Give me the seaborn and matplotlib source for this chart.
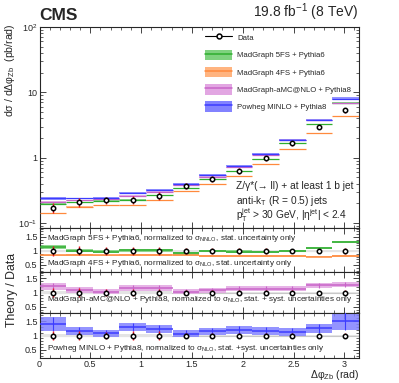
import numpy as np
import matplotlib
matplotlib.use("Agg")
import matplotlib.pyplot as plt
import seaborn as sns
from matplotlib.lines import Line2D
from matplotlib.patches import Patch
from matplotlib.ticker import MultipleLocator, LogLocator, FixedLocator, NullFormatter


# ---------------- data ----------------
bin_edges = np.linspace(0, np.pi, 13)
centers = 0.5 * (bin_edges[1:] + bin_edges[:-1])
width = bin_edges[1] - bin_edges[0]

# measured cross section (pb/rad)
dsigma = [0.171, 0.207, 0.224, 0.224, 0.261, 0.37, 0.47, 0.63, 0.98, 1.65, 3.0, 5.3]
# relative uncertainties of the data
err_tot = [0.17, 0.16, 0.13, 0.14, 0.14, 0.10, 0.10, 0.10, 0.09, 0.08, 0.06, 0.10]
err_stat = [0.10, 0.09, 0.08, 0.08, 0.08, 0.06, 0.06, 0.06, 0.05, 0.05, 0.04, 0.06]

# theory / data ratios
r_5fs = [1.15, 1.01, 0.98, 1.02, 1.03, 0.92, 1.00, 0.98, 0.96, 1.00, 1.10, 1.31]
r_4fs = [0.84, 0.86, 0.84, 0.85, 0.86, 0.84, 0.83, 0.82, 0.82, 0.82, 0.80, 0.82]
r_amc = [1.22, 1.08, 1.03, 1.16, 1.16, 1.03, 1.08, 1.14, 1.14, 1.14, 1.25, 1.28]
r_pow = [1.40, 1.15, 1.07, 1.30, 1.22, 1.06, 1.15, 1.20, 1.16, 1.13, 1.25, 1.50]

# half widths of the theory bands (in ratio units)
e_5fs = [0.07, 0.05, 0.05, 0.05, 0.05, 0.05, 0.04, 0.04, 0.04, 0.04, 0.04, 0.04]
e_4fs = [0.03, 0.03, 0.03, 0.03, 0.03, 0.03, 0.03, 0.03, 0.03, 0.03, 0.03, 0.03]
e_amc = [0.12, 0.10, 0.09, 0.10, 0.10, 0.09, 0.09, 0.09, 0.09, 0.09, 0.10, 0.10]
e_pow = [0.25, 0.13, 0.13, 0.14, 0.15, 0.12, 0.12, 0.14, 0.13, 0.13, 0.15, 0.30]

labels = ["MadGraph 5FS + Pythia6", "MadGraph 4FS + Pythia6",
          "MadGraph-aMC@NLO + Pythia8", "Powheg MINLO + Pythia8"]
line_cols = ["#2fae2f", "#ff8a3d", "#c864c8", "#3c3cff"]
band_cols = ["#7fd27f", "#ffb480", "#e2a6e2", "#8282ff"]

#------------------style------------------
sns.set_style("ticks")
plt.rcParams['font.family'] = ['Liberation Sans', 'DejaVu Sans']
plt.rcParams['mathtext.fontset'] = 'custom'
plt.rcParams['mathtext.rm'] = 'Liberation Sans'
plt.rcParams['mathtext.it'] = 'Liberation Sans:italic'
plt.rcParams['mathtext.bf'] = 'Liberation Sans:bold'
plt.rcParams['axes.linewidth'] = 0.8

fig = plt.figure(figsize=(3.99, 3.83), dpi=100)
L, W = 39.5 / 399, 319.2 / 399
def yfrac(top, bot):
    return [L, 1 - bot / 383, W, (bot - top) / 383]

ax = fig.add_axes(yfrac(27, 228))
ax1 = fig.add_axes(yfrac(228, 272), sharex=ax)
ax2 = fig.add_axes(yfrac(272, 313), sharex=ax)
ax3 = fig.add_axes(yfrac(313, 358), sharex=ax)

dsigma = np.array(dsigma)
ratios = [np.array(r_5fs), np.array(r_4fs), np.array(r_amc), np.array(r_pow)]
bands = [np.array(e_5fs), np.array(e_4fs), np.array(e_amc), np.array(e_pow)]


def draw_model(a, val, err, lc, bc, vbar=True, lw=1.1):
    a.bar(centers, 2 * err, bottom=val - err, width=width, color=bc,
          alpha=0.85, linewidth=0, zorder=2)
    a.hlines(val, bin_edges[:-1], bin_edges[1:], colors=lc, lw=lw, zorder=3)
    if vbar:
        a.vlines(centers, val - err, val + err, colors=lc, lw=0.8, zorder=3)


def draw_data(a, y, rel_tot, rel_st):
    y = np.asarray(y)
    a.errorbar(centers, y, yerr=y * np.array(rel_tot), fmt='none', ecolor='#e8141e',
               elinewidth=1.0, zorder=4)
    a.errorbar(centers, y, yerr=y * np.array(rel_st), fmt='none', ecolor='k',
               elinewidth=0.6, capsize=0, zorder=5)
    sns.scatterplot(x=centers, y=y, ax=a, marker='o', s=10, facecolor='white',
                    edgecolor='k', linewidth=1.1, zorder=6, legend=False)


#------------------main panel------------------
for r, e, lc, bc in zip(ratios, bands, line_cols, band_cols):
    val = dsigma * r
    draw_model(ax, val, dsigma * e * 0.25, lc, bc, vbar=False, lw=0.9)
draw_data(ax, dsigma, err_tot, err_stat)

ax.set_yscale('log')
ax.set_ylim(0.084, 100)
ax.set_xlim(0, np.pi)
ax.yaxis.set_major_locator(FixedLocator([0.1, 1, 10, 100]))
ax.set_yticklabels(["10$^{-1}$", "1", "10", "10$^{2}$"])
ax.yaxis.set_minor_locator(LogLocator(base=10, subs=np.arange(2, 10)))
ax.yaxis.set_minor_formatter(NullFormatter())
fig.text(10 / 399, 1 - 23 / 383, "dσ / dΔφ$_{\\mathregular{Zb}}$  (pb/rad)", fontsize=7.6,
         rotation=90, ha='center', va='top')

ax.text(0.0, 1.018, "CMS", transform=ax.transAxes, fontsize=12.5,
        fontweight='bold', ha='left', va='bottom')
ax.text(1.0, 1.018, "19.8 fb$^{\\mathregular{-1}}$ (8 TeV)", transform=ax.transAxes,
        fontsize=10, ha='right', va='bottom')

for i, t in enumerate(["Z/γ*(→ ll) + at least 1 b jet",
                       "anti-k$_{\\mathregular{T}}$ (R = 0.5) jets",
                       "p$_{\\mathregular{T}}^{\\mathregular{jet}}$ > 30 GeV, |η$^{\\mathregular{jet}}$| < 2.4"]):
    fig.text(236 / 399, 1 - (186 + i * 14.5) / 383, t, fontsize=7.3, va='center')

handles = [Line2D([], [], color='k', lw=0.8, marker='o', ms=3.5, mfc='white', mew=1.1)]
for lc, bc in zip(line_cols, band_cols):
    handles.append((Patch(facecolor=bc, edgecolor='none'), Line2D([], [], color=lc, lw=1.1)))
fig.legend(handles, ["Data"] + labels, loc='upper left',
           bbox_to_anchor=(205 / 399, 1 - 32.5 / 383), frameon=False, fontsize=5.6,
           handlelength=3.5, handleheight=1.7, labelspacing=0.86,
           handletextpad=0.6, borderpad=0, borderaxespad=0)

#------------------ratio panels------------------
ratio_txt = [
    ("MadGraph 5FS + Pythia6, normalized to σ$_{\\mathregular{NNLO}}$, stat. uncertainty only",
     "MadGraph 4FS + Pythia6, normalized to σ$_{\\mathregular{NLO}}$, stat. uncertainty only"),
    (None, "MadGraph-aMC@NLO + Pythia8, normalized to σ$_{\\mathregular{NLO}}$, stat. + syst. uncertainties only"),
    (None, "Powheg MINLO + Pythia8, normalized to σ$_{\\mathregular{NLO}}$, stat. +syst. uncertainties only"),
]
ylims = [(0.25, 1.82), (0.28, 1.72), (0.22, 1.78)]
ones = np.ones(12)

for k, a in enumerate([ax1, ax2, ax3]):
    a.axhline(1, color='#c8c8c8', lw=0.8, zorder=1)
    a.bar(centers, 2 * np.array(err_stat) * 0.5, bottom=1 - np.array(err_stat) * 0.5,
          width=width, color='#e4e4e4', linewidth=0, zorder=1)
    a.set_ylim(*ylims[k])
    a.yaxis.set_major_locator(FixedLocator([0.5, 1, 1.5]))
    a.set_yticklabels(["0.5", "1", "1.5"])
    a.yaxis.set_minor_locator(MultipleLocator(0.1))

draw_model(ax1, ratios[0], bands[0], line_cols[0], band_cols[0], vbar=False)
draw_model(ax1, ratios[1], bands[1], line_cols[1], band_cols[1], vbar=False)
draw_model(ax2, ratios[2], bands[2], line_cols[2], band_cols[2])
draw_model(ax3, ratios[3], bands[3], line_cols[3], band_cols[3])
for a in [ax1, ax2, ax3]:
    draw_data(a, ones, err_tot, err_stat)

tfs = 5.85
ax1.text(0.025, 0.75, ratio_txt[0][0], transform=ax1.transAxes, fontsize=tfs, va='center')
ax1.text(0.025, 0.2, ratio_txt[0][1], transform=ax1.transAxes, fontsize=tfs, va='center')
ax2.text(0.025, 0.32, ratio_txt[1][1], transform=ax2.transAxes, fontsize=tfs, va='center')
ax3.text(0.025, 0.21, ratio_txt[2][1], transform=ax3.transAxes, fontsize=tfs, va='center')

fig.text(12 / 399, 1 - 290 / 383, "Theory / Data", rotation=90, fontsize=8.8,
         ha='center', va='center')

ax3.xaxis.set_minor_locator(MultipleLocator(0.1))
ax3.set_xticks([0, 0.5, 1, 1.5, 2, 2.5, 3])
ax3.set_xticklabels(["0", "0.5", "1", "1.5", "2", "2.5", "3"])
ax3.set_xlim(0, np.pi)
fig.text(359 / 399, 1 - 368.5 / 383, "Δφ$_{\\mathregular{Zb}}$ (rad)", fontsize=7.6,
         ha='right', va='top')

for a in [ax, ax1, ax2, ax3]:
    a.tick_params(which='both', direction='in', top=True, right=True, labelsize=6.5, pad=1.5)
    a.tick_params(which='major', length=4, width=0.6)
    a.tick_params(which='minor', length=2, width=0.5)
    if a is not ax3:
        a.tick_params(labelbottom=False)

plt.savefig("out.png", dpi=100)
